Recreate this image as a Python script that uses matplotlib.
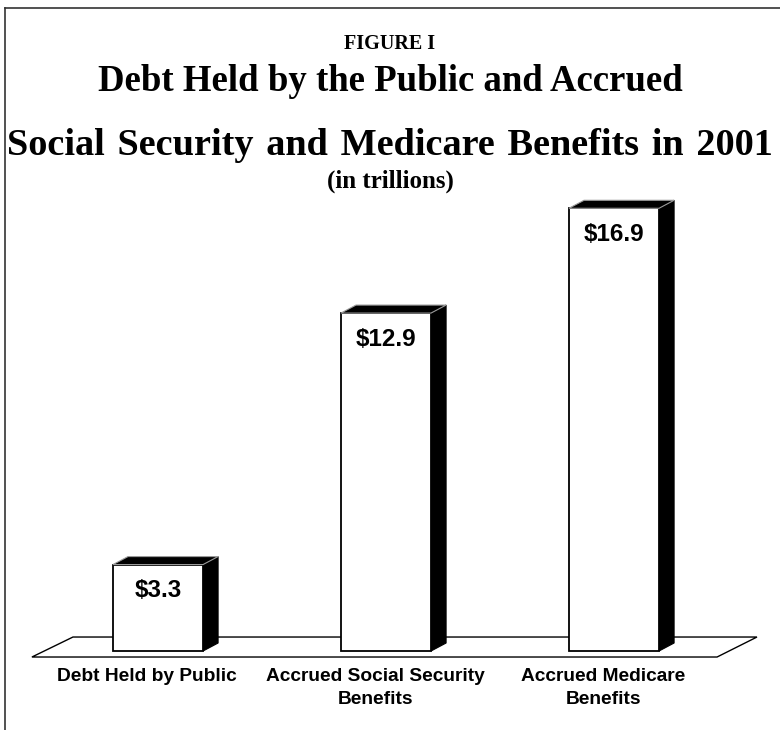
import matplotlib.pyplot as plt
from matplotlib.patches import Polygon
from matplotlib.lines import Line2D

# data
categories = ['Debt Held by Public', 'Accrued Social Security\nBenefits', 'Accrued Medicare\nBenefits']
values = [3.3, 12.9, 16.9]
value_labels = ['$3.3', '$12.9', '$16.9']

fig = plt.figure(figsize=(7.8, 7.3), dpi=100)
ax = fig.add_axes([0, 0, 1, 1])
ax.set_xlim(-0.693, 2.728)
ax.set_ylim(-3.015, 24.85)
ax.axis('off')

x = list(range(len(values)))
bar_w = 0.395
dx, dy = 0.066, 0.305   # fake 3d depth

# floor
floor = Polygon([(-0.553, -0.229), (2.452, -0.229), (2.627, 0.534), (-0.373, 0.534)],
                closed=True, facecolor='white', edgecolor='black', linewidth=1.0, zorder=1)
ax.add_patch(floor)

# front faces
ax.bar(x, values, width=bar_w, color='white', edgecolor='black', linewidth=1.3, zorder=3)

for xi, v, lab in zip(x, values, value_labels):
    x0 = xi - bar_w / 2
    x1 = xi + bar_w / 2
    side = Polygon([(x1, 0), (x1 + dx, dy), (x1 + dx, v + dy), (x1, v)],
                   closed=True, facecolor='black', edgecolor='black', linewidth=0.8, zorder=2)
    top = Polygon([(x0, v), (x1, v), (x1 + dx, v + dy), (x0 + dx, v + dy)],
                  closed=True, facecolor='black', edgecolor='#9a9a9a', linewidth=0.8, zorder=4)
    ax.add_patch(side)
    ax.add_patch(top)
    ax.annotate(lab, xy=(xi, v), xytext=(0, -19), textcoords='offset points',
                ha='center', va='center', fontsize=17.5, fontweight='bold',
                family='Liberation Sans', zorder=5)

# category labels under the floor
for xi, cat in zip(x, categories):
    ax.text(xi - 0.048, -0.66, cat, ha='center', va='top', fontsize=13.8,
            fontweight='bold', family='Liberation Sans', linespacing=1.45)

# titles
serif = 'Liberation Serif'
sp = '\u2004'
fig.text(0.5, 1 - 49 / 730, 'FIGURE I', ha='center', va='baseline',
         fontsize=14.5, fontweight='bold', family=serif)
fig.text(0.5, 1 - 91 / 730, 'Debt Held by the Public and Accrued', ha='center', va='baseline',
         fontsize=26.5, fontweight='bold', family=serif)
line2 = sp.join(['Social', 'Security', 'and', 'Medicare', 'Benefits', 'in', '2001'])
fig.text(0.5, 1 - 155 / 730, line2, ha='center', va='baseline',
         fontsize=27.5, fontweight='bold', family=serif)
fig.text(0.5, 1 - 188 / 730, '(in trillions)', ha='center', va='baseline',
         fontsize=18, fontweight='bold', family=serif)

# frame (left and top only)
fig.add_artist(Line2D([5 / 780, 5 / 780], [0, 1 - 8 / 730], color='#333333', linewidth=1.2))
fig.add_artist(Line2D([5 / 780, 1], [1 - 8 / 730, 1 - 8 / 730], color='#333333', linewidth=1.2))

fig.savefig('out.png', dpi=100)
